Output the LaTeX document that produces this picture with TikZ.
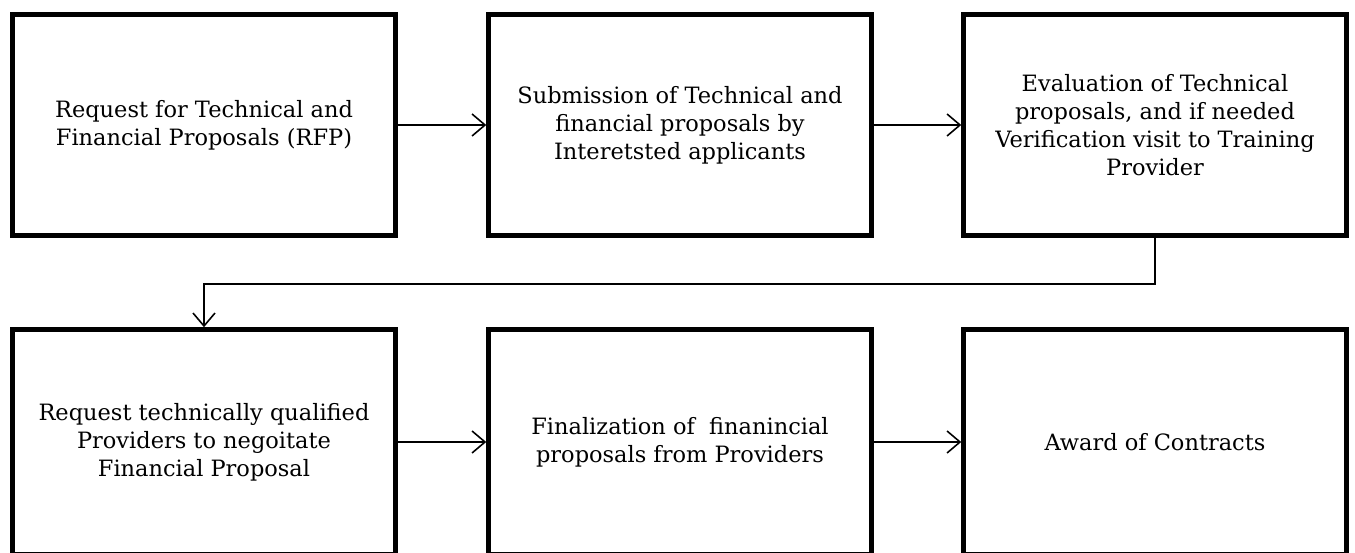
\documentclass[tikz,border=0pt]{standalone}
\usepackage{fontspec}
\setmainfont{DejaVu Serif}
\usetikzlibrary{arrows.meta}
\begin{document}
\begin{tikzpicture}[x=0.02cm, y=-0.02cm, >={Straight Barb[length=2.6mm,width=4.4mm]},
  stepbox/.style={draw, line width=2.6pt, align=center, minimum width=7.66cm, minimum height=4.42cm,
    font=\fontsize{12.8}{16}\selectfont},
  link/.style={->, line width=0.9pt}]
\useasboundingbox (0,0) rectangle (1355,553);
\clip (0,0) rectangle (1355,553);
\node[stepbox] (rfp) at (204,125) {Request for Technical and\\Financial Proposals (RFP)};
\node[stepbox] (submit) at (680,125) {Submission of Technical and\\financial proposals by\\Interetsted applicants};
\node[stepbox] (evaluate) at (1155,125) {Evaluation of Technical\\proposals, and if needed\\Verification visit to Training\\Provider};
\node[stepbox, minimum height=4.5cm] (negotiate) at (204,442) {Request technically qualified\\Providers to negoitate\\Financial Proposal};
\node[stepbox, minimum height=4.5cm] (finalize) at (680,442) {Finalization of ~finanincial\\proposals from Providers};
\node[stepbox, minimum height=4.5cm] (award) at (1155,442) {Award of Contracts};
\coordinate (bend) at (1155,284);
\draw[link] (rfp) -- (submit);
\draw[link] (submit) -- (evaluate);
\draw[link] (evaluate.south) -- (bend) -| (negotiate.north);
\draw[link] (negotiate) -- (finalize);
\draw[link] (finalize) -- (award);
\end{tikzpicture}
\end{document}
